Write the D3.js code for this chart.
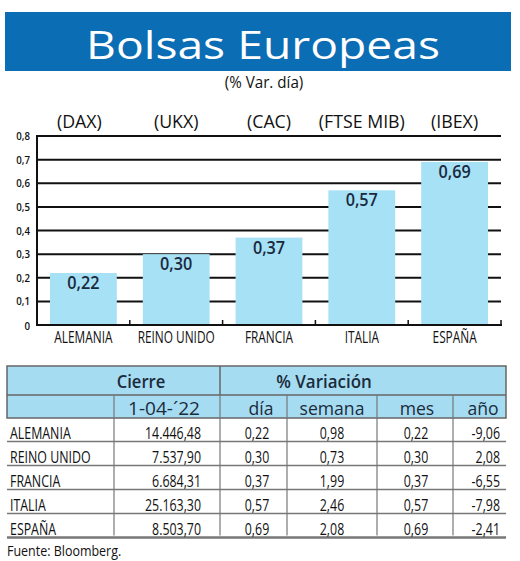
<!DOCTYPE html>
<html><head><meta charset="utf-8">
<script src="https://cdn.jsdelivr.net/npm/d3@7"></script>
<style>
html,body{margin:0;padding:0;background:#fff;}
svg{display:block;font-family:"Open Sans","Noto Sans",sans-serif;}
</style></head>
<body>
<svg id="c" width="520" height="561"></svg>
<script>
// ---- data ----
const categories = ["ALEMANIA","REINO UNIDO","FRANCIA","ITALIA","ESPAÑA"];
const indexNames = ["(DAX)","(UKX)","(CAC)","(FTSE MIB)","(IBEX)"];
const dayChange = [0.22,0.30,0.37,0.57,0.69];
const closeValues = [14446.48,7537.90,6684.31,25163.30,8503.70];
const weekChange = [0.98,0.73,1.99,2.46,2.08];
const monthChange = [0.22,0.30,0.37,0.57,0.69];
const yearChange = [-9.06,2.08,-6.55,-7.98,-2.41];
const yTicks = [0,0.1,0.2,0.3,0.4,0.5,0.6,0.7,0.8];
const title = "Bolsas Europeas";
const subtitle = "(% Var. día)";
const closeDate = "1-04-´22";
const colHeads = ["día","semana","mes","año"];
const source = "Fuente: Bloomberg.";

const loc = d3.formatLocale({decimal:",",thousands:".",grouping:[3],currency:["",""],minus:"-"});
const f1 = loc.format(".1f"), f2 = loc.format(".2f"), fc = loc.format(",.2f");

const svg = d3.select("#c");
function condense(sel, k){
  sel.each(function(){
    const w = this.getComputedTextLength();
    d3.select(this).attr("textLength", w*k).attr("lengthAdjust","spacingAndGlyphs");
  });
  return sel;
}

// ---- banner ----
svg.append("rect").attr("x",5).attr("y",12).attr("width",506).attr("height",59).attr("fill","#0b6db4");
svg.append("text").attr("x",263).attr("y",59).attr("text-anchor","middle")
  .attr("fill","#fff").attr("font-size",39).attr("font-weight",500).text(title)
  .attr("textLength",354).attr("lengthAdjust","spacingAndGlyphs");
svg.append("text").attr("x",264).attr("y",88).attr("text-anchor","middle")
  .attr("fill","#111").attr("font-size",16.5).text(subtitle).call(condense,0.92);

// ---- chart ----
const x = d3.scaleBand().domain(categories).range([37,501]).paddingInner(0.28).paddingOuter(0.14);
const y = d3.scaleLinear().domain([0,0.8]).range([325,136]);
const g = svg.append("g");

g.selectAll("line.grid").data(yTicks.filter(t=>t>0)).join("line")
  .attr("x1",37).attr("x2",501).attr("y1",d=>y(d)).attr("y2",d=>y(d))
  .attr("stroke","#111").attr("stroke-width",2);

g.selectAll("rect.bar").data(dayChange).join("rect")
  .attr("x",(d,i)=>x(categories[i])).attr("width",x.bandwidth())
  .attr("y",d=>y(d)).attr("height",d=>y(0)-y(d)).attr("fill","#a7e1f6");

// axes
g.append("line").attr("x1",37).attr("x2",37).attr("y1",y(0.8)-1).attr("y2",y(0)+1).attr("stroke","#111").attr("stroke-width",2);
g.append("line").attr("x1",36).attr("x2",502).attr("y1",y(0)).attr("y2",y(0)).attr("stroke","#111").attr("stroke-width",2);
const bounds = categories.map(c=>x(c)+x.bandwidth()+(x.step()-x.bandwidth())/2);
g.selectAll("line.bt").data(bounds).join("line")
  .attr("x1",d=>d).attr("x2",d=>d).attr("y1",y(0)).attr("y2",y(0)-5)
  .attr("stroke","#111").attr("stroke-width",1.5);

g.selectAll("text.yt").data(yTicks).join("text")
  .attr("x",30).attr("y",d=>y(d)+ (d===0?5:4)).attr("text-anchor","end")
  .attr("font-size",11).attr("font-weight",600).attr("fill","#111")
  .text(d=>d===0?"0":f1(d)).call(condense,0.88);

g.selectAll("text.val").data(dayChange).join("text")
  .attr("x",(d,i)=>x(categories[i])+x.bandwidth()/2).attr("y",d=>y(d)+16)
  .attr("text-anchor","middle").attr("font-size",18).attr("fill","#1a2a3e").attr("font-weight",600)
  .text(d=>f2(d)).call(condense,0.9);

g.selectAll("text.cat").data(categories).join("text")
  .attr("x",d=>x(d)+x.bandwidth()/2).attr("y",343).attr("text-anchor","middle")
  .attr("font-size",16).attr("fill","#111").text(d=>d).call(condense,0.74);

g.selectAll("text.idx").data(indexNames).join("text")
  .attr("x",(d,i)=>x(categories[i])+x.bandwidth()/2 - (i===0?4:0)).attr("y",128).attr("text-anchor","middle")
  .attr("font-size",18.5).attr("fill","#111").text(d=>d).call(condense,0.96);

// ---- table ----
const T = svg.append("g");
const tL=7, tR=506, h1=366, h2=395, h3=418;
const cols = [114,220,287,377,453];
const rowBase = d3.range(categories.length).map(i=>438.5+i*24);
T.append("rect").attr("x",tL).attr("y",h1).attr("width",tR-tL).attr("height",h3-h1)
  .attr("fill","#a6dcf2").attr("stroke","#666").attr("stroke-width",1.5);
T.append("line").attr("x1",tL).attr("x2",tR).attr("y1",h2).attr("y2",h2).attr("stroke","#666").attr("stroke-width",1.5);
T.append("line").attr("x1",cols[1]).attr("x2",cols[1]).attr("y1",h1).attr("y2",h2).attr("stroke","#666").attr("stroke-width",1.5);
T.selectAll("line.vd").data(cols).join("line")
  .attr("x1",d=>d).attr("x2",d=>d).attr("y1",h2).attr("y2",rowBase[rowBase.length-1]+1)
  .attr("stroke","#777").attr("stroke-width",1.2);
T.selectAll("line.rl").data(rowBase).join("line")
  .attr("x1",tL).attr("x2",tR).attr("y1",d=>d+3).attr("y2",d=>d+3)
  .attr("stroke","#777").attr("stroke-width",(d,i)=>i===rowBase.length-1?2.5:1.5);

T.append("text").attr("x",141).attr("y",388).attr("text-anchor","middle").attr("font-size",17.5).attr("font-weight",600).attr("fill","#1b2b3b").text("Cierre").call(condense,0.95);
T.append("text").attr("x",324).attr("y",388).attr("text-anchor","middle").attr("font-size",17.5).attr("font-weight",600).attr("fill","#1b2b3b").text("% Variación").call(condense,0.97);
T.append("text").attr("x",164).attr("y",414.5).attr("text-anchor","middle").attr("font-size",19).attr("fill","#1b2b3b").text(closeDate).call(condense,1.0);
const headX = [261,332,417,483];
T.selectAll("text.ch").data(colHeads).join("text")
  .attr("x",(d,i)=>headX[i]).attr("y",414.5).attr("text-anchor","middle").attr("font-size",18.5).attr("fill","#1b2b3b")
  .text(d=>d).call(condense,0.95);

const rows = T.selectAll("g.row").data(categories).join("g");
const fs = 16.5, k = 0.75;
rows.append("text").attr("x",10).attr("y",(d,i)=>rowBase[i]).attr("font-size",fs).attr("fill","#111").text(d=>d).call(condense,k);
rows.append("text").attr("x",201).attr("y",(d,i)=>rowBase[i]).attr("text-anchor","end").attr("font-size",fs).attr("fill","#111").text((d,i)=>fc(closeValues[i])).call(condense,k);
rows.append("text").attr("x",257).attr("y",(d,i)=>rowBase[i]).attr("text-anchor","middle").attr("font-size",fs).attr("fill","#111").text((d,i)=>f2(dayChange[i])).call(condense,k);
rows.append("text").attr("x",332).attr("y",(d,i)=>rowBase[i]).attr("text-anchor","middle").attr("font-size",fs).attr("fill","#111").text((d,i)=>f2(weekChange[i])).call(condense,k);
rows.append("text").attr("x",416).attr("y",(d,i)=>rowBase[i]).attr("text-anchor","middle").attr("font-size",fs).attr("fill","#111").text((d,i)=>f2(monthChange[i])).call(condense,k);
rows.append("text").attr("x",500).attr("y",(d,i)=>rowBase[i]).attr("text-anchor","end").attr("font-size",fs).attr("fill","#111").text((d,i)=>f2(yearChange[i])).call(condense,k);

svg.append("text").attr("x",7).attr("y",555.5).attr("font-size",14.5).attr("fill","#111").text(source).call(condense,0.86);
</script>
</body></html>
